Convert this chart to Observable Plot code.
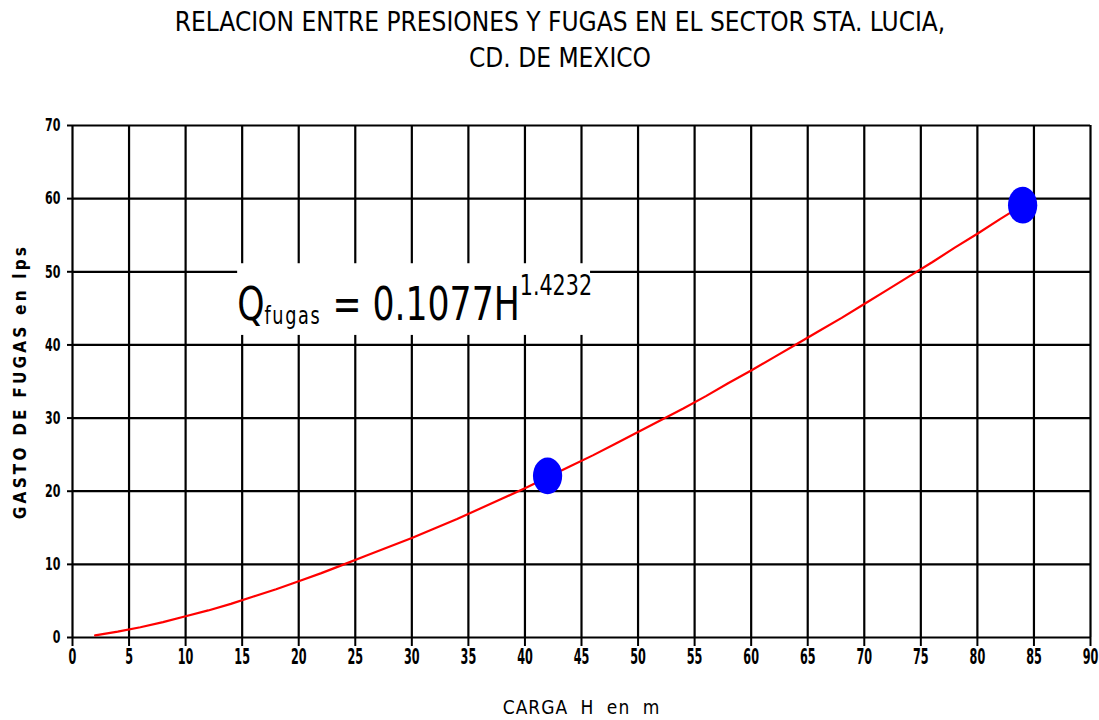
<!DOCTYPE html>
<html>
<head>
<meta charset="utf-8">
<script src="https://cdn.jsdelivr.net/npm/d3@7"></script>
<script src="https://cdn.jsdelivr.net/npm/@observablehq/plot@0.6"></script>
<style>
  body { margin: 0; background: #fff; }
  #wrap { width: 1099px; height: 720px; position: relative; background: #fff;
          font-family: "Liberation Sans Narrow", "DejaVu Sans Condensed", "Liberation Sans", sans-serif; color: #000; }
  #title div { position: absolute; left: 0; width: 1120px; text-align: center; font-size: 26px; line-height: 30px; }
  #chart { position: absolute; left: 0; top: 90px; }
</style>
</head>
<body>
<div id="wrap">
  <div id="title"></div>
  <div id="chart"></div>
</div>
<script>
// Titles and axis labels
const titleLines = ["RELACION ENTRE PRESIONES Y FUGAS EN EL SECTOR STA. LUCIA,", "CD. DE MEXICO"];
const xLabel = "CARGA H en m";
const yLabel = "GASTO DE FUGAS en lps";

// Tick values
const xTicks = [0, 5, 10, 15, 20, 25, 30, 35, 40, 45, 50, 55, 60, 65, 70, 75, 80, 85, 90];
const yTicks = [0, 10, 20, 30, 40, 50, 60, 70];

// Fitted leak curve Q(H)
const cargaH = [2, 4, 6, 8, 10, 12, 14, 16, 18, 20, 22, 24, 26, 28, 30, 32, 34, 36, 38, 40, 42,
                44, 46, 48, 50, 52, 54, 56, 58, 60, 62, 64, 66, 68, 70, 72, 74, 76, 78, 80, 82, 84];
const gastoQ = [0.3, 0.8, 1.4, 2.1, 2.9, 3.7, 4.6, 5.6, 6.6, 7.7, 8.8, 10.0, 11.2, 12.4, 13.6, 14.9,
                16.2, 17.6, 19.0, 20.4, 21.9, 23.4, 24.9, 26.5, 28.1, 29.7, 31.3, 33.0, 34.8, 36.5,
                38.3, 40.1, 41.9, 43.7, 45.6, 47.5, 49.4, 51.3, 53.3, 55.2, 57.2, 59.1];

// Measured points
const medidoH = [42, 84];
const medidoQ = [22.1, 59.1];

// Equation label and its white backing box (data units)
const ecuacion = { base: "Q", sub: "fugas", body: " = 0.1077H", exp: "1.4232" };
const ecuacionBox = { h1: 14.6, h2: 45.8, q1: 41.3, q2: 51.1, qBase: 43.3 };

const FONT = '"Liberation Sans Narrow", "DejaVu Sans Condensed", "Liberation Sans", sans-serif';

d3.select("#title").selectAll("div").data(titleLines).join("div")
  .style("top", (d, i) => (7 + i * 36) + "px")
  .text(d => d);

const curva = cargaH.map((h, i) => ({ h, q: gastoQ[i] }));
const medidos = medidoH.map((h, i) => ({ h, q: medidoQ[i] }));

// Slightly tall ellipse for the measured points
const ellipse = {
  draw(context, size) {
    const r = Math.sqrt(size / Math.PI);
    const rx = r * 0.86, ry = r * 1.08, k = 0.5523;
    context.moveTo(rx, 0);
    context.bezierCurveTo(rx, ry * k, rx * k, ry, 0, ry);
    context.bezierCurveTo(-rx * k, ry, -rx, ry * k, -rx, 0);
    context.bezierCurveTo(-rx, -ry * k, -rx * k, -ry, 0, -ry);
    context.bezierCurveTo(rx * k, -ry, rx, -ry * k, rx, 0);
    context.closePath();
  }
};

// Equation text on a white box that hides the grid behind it
function equationMark(index, scales) {
  const sx = scales.x, sy = scales.y;
  const g = d3.create("svg:g");
  const x1 = sx(ecuacionBox.h1), x2 = sx(ecuacionBox.h2);
  const y1 = sy(ecuacionBox.q2), y2 = sy(ecuacionBox.q1);
  g.append("rect").attr("x", x1).attr("y", y1).attr("width", x2 - x1).attr("height", y2 - y1).attr("fill", "#fff");
  const t = g.append("text")
    .attr("transform", `translate(${x1},${sy(ecuacionBox.qBase)}) scale(0.82,1)`)
    .attr("text-anchor", "start")
    .attr("font-family", FONT).attr("fill", "#000");
  t.append("tspan").attr("font-size", 47).text(ecuacion.base);
  t.append("tspan").attr("font-size", 24).attr("dy", 4).attr("letter-spacing", 2).text(ecuacion.sub);
  t.append("tspan").attr("font-size", 47).attr("dy", -4).text(ecuacion.body);
  t.append("tspan").attr("font-size", 28).attr("dy", -25).text(ecuacion.exp);
  return g.node();
}

const chart = Plot.plot({
  width: 1099,
  height: 630,
  marginTop: 35,
  marginBottom: 83,
  marginLeft: 72,
  marginRight: 9,
  style: { fontFamily: FONT, background: "#fff", color: "#000" },
  x: { domain: [0, 90] },
  y: { domain: [0, 70] },
  marks: [
    Plot.ruleX(xTicks, { stroke: "#000", strokeWidth: 2.2 }),
    Plot.ruleY(yTicks, { stroke: "#000", strokeWidth: 2.2 }),
    Plot.axisX({ ticks: xTicks, tickSize: 9, tickPadding: 3, fontSize: 16, fontWeight: "bold",
                 label: null, stroke: "#000", strokeWidth: 2 }),
    Plot.axisY({ ticks: yTicks, tickSize: 5, tickPadding: 7, fontSize: 15, fontWeight: "bold",
                 label: null, stroke: "#000", strokeWidth: 2 }),
    equationMark,
    Plot.line(curva, { x: "h", y: "q", stroke: "#ff0000", strokeWidth: 2.2 }),
    Plot.dot(medidos, { x: "h", y: "q", r: 17, fill: "#0000ff", stroke: "none", symbol: ellipse }),
    Plot.text([xLabel], { frameAnchor: "bottom", dy: 76, fontSize: 19, fill: "#000" }),
    Plot.text([yLabel], { frameAnchor: "left", textAnchor: "middle", dx: -52, rotate: -90,
                          fontSize: 17, fontWeight: "bold", fill: "#000" })
  ]
});

// Tall, narrow tick numerals
d3.select(chart).selectAll('[aria-label="x-axis tick label"] text').each(function () {
  const tr = this.getAttribute("transform") || "";
  this.setAttribute("transform", tr + " scale(0.78,1.3)");
});
d3.select(chart).selectAll('[aria-label="y-axis tick label"] text').each(function () {
  const tr = this.getAttribute("transform") || "";
  this.setAttribute("transform", tr + " scale(0.82,1.2)");
});
d3.select(chart).selectAll("text").filter(function () { return this.textContent === xLabel; })
  .style("letter-spacing", "1px").style("word-spacing", "6px");
d3.select(chart).selectAll("text").filter(function () { return this.textContent === yLabel; })
  .style("letter-spacing", "3.2px");

document.getElementById("chart").appendChild(chart);
</script>
</body>
</html>
